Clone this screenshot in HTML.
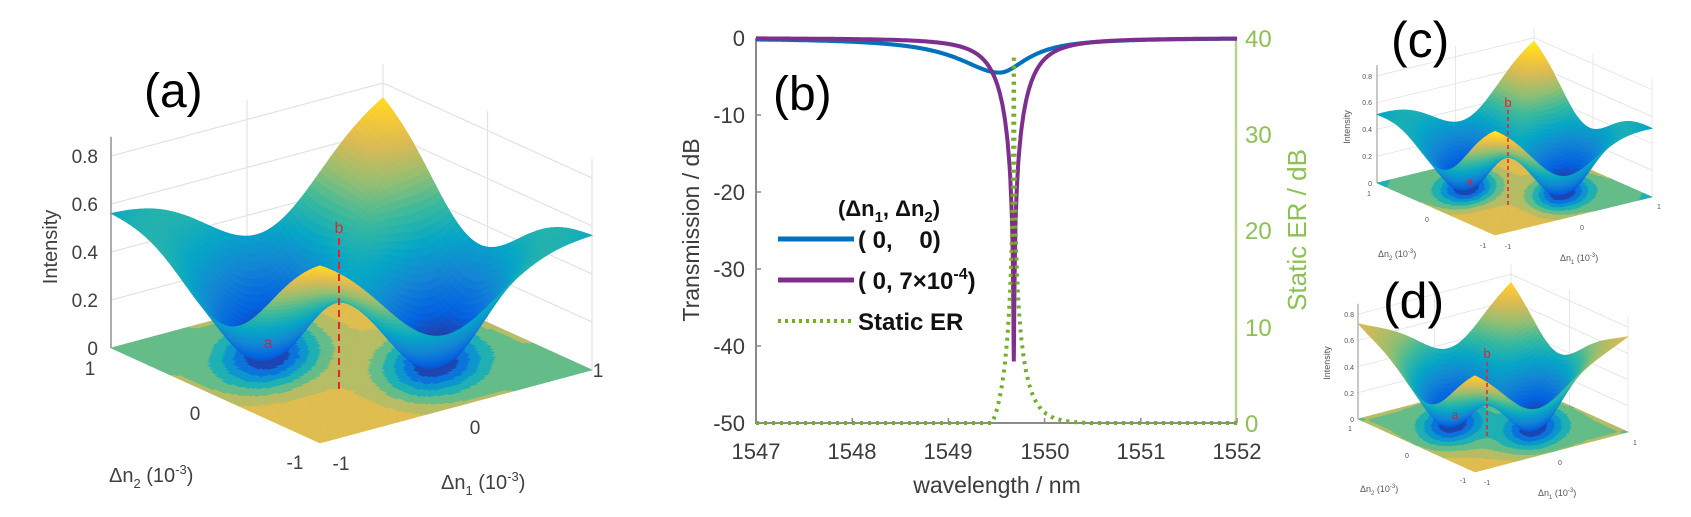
<!DOCTYPE html>
<html><head><meta charset="utf-8"><style>
html,body{margin:0;padding:0;background:#fff}
svg{display:block}
text{font-family:"Liberation Sans",sans-serif}
</style></head><body>
<svg id="s" width="1691" height="517" viewBox="0 0 1691 517" xmlns="http://www.w3.org/2000/svg">
<rect width="1691" height="517" fill="#fff"/>
<g id="pa"></g><g id="pc"></g><g id="pd"></g><g id="pb"></g>

<text x="144" y="107" font-size="48">(a)</text>
<text x="773" y="110" font-size="48">(b)</text>
<text x="1391" y="57" font-size="50">(c)</text>
<text x="1383" y="318" font-size="50">(d)</text>

<g fill="#404040" font-size="19">
<text x="98" y="355" text-anchor="end">0</text>
<text x="98" y="307" text-anchor="end">0.2</text>
<text x="98" y="259" text-anchor="end">0.4</text>
<text x="98" y="211" text-anchor="end">0.6</text>
<text x="98" y="163" text-anchor="end">0.8</text>
<text transform="translate(57,247) rotate(-90)" text-anchor="middle" font-size="20">Intensity</text>
<text x="90" y="375" text-anchor="middle">1</text>
<text x="195" y="420" text-anchor="middle">0</text>
<text x="295" y="469" text-anchor="middle">-1</text>
<text x="341" y="470" text-anchor="middle">-1</text>
<text x="475" y="434" text-anchor="middle">0</text>
<text x="598" y="377" text-anchor="middle">1</text>
<text x="109" y="482" font-size="20">Δn<tspan font-size="13" dy="6">2</tspan><tspan dy="-6"> (10</tspan><tspan font-size="13" dy="-8">-3</tspan><tspan dy="8">)</tspan></text>
<text x="441" y="489" font-size="20">Δn<tspan font-size="13" dy="6">1</tspan><tspan dy="-6"> (10</tspan><tspan font-size="13" dy="-8">-3</tspan><tspan dy="8">)</tspan></text>
</g>

<g fill="#555" font-size="7">
<text x="1372" y="186" text-anchor="end">0</text>
<text x="1372" y="159" text-anchor="end">0.2</text>
<text x="1372" y="132" text-anchor="end">0.4</text>
<text x="1372" y="105" text-anchor="end">0.6</text>
<text x="1372" y="79" text-anchor="end">0.8</text>
<text transform="translate(1350,127) rotate(-90)" text-anchor="middle" font-size="9">Intensity</text>
<text x="1369" y="196" text-anchor="middle">1</text>
<text x="1427" y="222" text-anchor="middle">0</text>
<text x="1483" y="248" text-anchor="middle">-1</text>
<text x="1508" y="249" text-anchor="middle">-1</text>
<text x="1582" y="230" text-anchor="middle">0</text>
<text x="1659" y="209" text-anchor="middle">1</text>
<text x="1378" y="257" font-size="9">Δn<tspan font-size="6" dy="3">2</tspan><tspan dy="-3"> (10</tspan><tspan font-size="6" dy="-4">-3</tspan><tspan dy="4">)</tspan></text>
<text x="1560" y="261" font-size="9">Δn<tspan font-size="6" dy="3">1</tspan><tspan dy="-3"> (10</tspan><tspan font-size="6" dy="-4">-3</tspan><tspan dy="4">)</tspan></text>
</g>

<g fill="#555" font-size="7">
<text x="1354" y="422" text-anchor="end">0</text>
<text x="1354" y="396" text-anchor="end">0.2</text>
<text x="1354" y="370" text-anchor="end">0.4</text>
<text x="1354" y="343" text-anchor="end">0.6</text>
<text x="1354" y="317" text-anchor="end">0.8</text>
<text transform="translate(1330,363) rotate(-90)" text-anchor="middle" font-size="9">Intensity</text>
<text x="1350" y="431" text-anchor="middle">1</text>
<text x="1407" y="458" text-anchor="middle">0</text>
<text x="1463" y="483" text-anchor="middle">-1</text>
<text x="1487" y="485" text-anchor="middle">-1</text>
<text x="1560" y="465" text-anchor="middle">0</text>
<text x="1635" y="445" text-anchor="middle">1</text>
<text x="1360" y="492" font-size="9">Δn<tspan font-size="6" dy="3">2</tspan><tspan dy="-3"> (10</tspan><tspan font-size="6" dy="-4">-3</tspan><tspan dy="4">)</tspan></text>
<text x="1538" y="496" font-size="9">Δn<tspan font-size="6" dy="3">1</tspan><tspan dy="-3"> (10</tspan><tspan font-size="6" dy="-4">-3</tspan><tspan dy="4">)</tspan></text>
</g>

<g fill="#e8222a" stroke="none">
<text x="339" y="233" font-size="16" text-anchor="middle">b</text>
<text x="268" y="348" font-size="16" text-anchor="middle" fill="#d0204a">a</text>
<text x="1508" y="107" font-size="13" text-anchor="middle">b</text>
<text x="1470" y="186" font-size="12" text-anchor="middle" fill="#d0204a">a</text>
<text x="1487" y="358" font-size="13" text-anchor="middle">b</text>
<text x="1455" y="419" font-size="12" text-anchor="middle" fill="#d0204a">a</text>
</g>
<g stroke="#e8222a" stroke-dasharray="7 5" fill="none">
<line x1="339" y1="238" x2="339" y2="390" stroke-width="2"/>
<line x1="1508" y1="110" x2="1508" y2="206" stroke-width="1.5" stroke-dasharray="4 3"/>
<line x1="1487" y1="362" x2="1487" y2="438" stroke-width="1.5" stroke-dasharray="4 3"/>
</g>

<g fill="#3c3c3c" font-size="22">
<text x="745" y="46" text-anchor="end">0</text>
<text x="745" y="123" text-anchor="end">-10</text>
<text x="745" y="200" text-anchor="end">-20</text>
<text x="745" y="277" text-anchor="end">-30</text>
<text x="745" y="354" text-anchor="end">-40</text>
<text x="745" y="431" text-anchor="end">-50</text>
<text x="756" y="459" text-anchor="middle">1547</text>
<text x="852" y="459" text-anchor="middle">1548</text>
<text x="948" y="459" text-anchor="middle">1549</text>
<text x="1045" y="459" text-anchor="middle">1550</text>
<text x="1141" y="459" text-anchor="middle">1551</text>
<text x="1237" y="459" text-anchor="middle">1552</text>
<text x="997" y="493" text-anchor="middle" font-size="23">wavelength / nm</text>
<text transform="translate(699,230) rotate(-90)" text-anchor="middle" font-size="23">Transmission / dB</text>
</g>
<g fill="#8dc055" font-size="24">
<text x="1245" y="47">40</text>
<text x="1245" y="143">30</text>
<text x="1245" y="239">20</text>
<text x="1245" y="336">10</text>
<text x="1245" y="432">0</text>
<text transform="translate(1306,230) rotate(-90)" text-anchor="middle" font-size="26">Static ER / dB</text>
</g>
<g font-weight="bold" fill="#111" font-size="22">
<text x="838" y="216">(Δn<tspan font-size="15" dy="6">1</tspan><tspan dy="-6">, Δn</tspan><tspan font-size="15" dy="6">2</tspan><tspan dy="-6">)</tspan></text>
<text x="858" y="248" font-size="24" xml:space="preserve">( 0,    0)</text>
<text x="858" y="289" font-size="24">( 0, 7×10<tspan font-size="16" dy="-10">-4</tspan><tspan dy="10">)</tspan></text>
<text x="858" y="330" font-size="24">Static ER</text>
</g>
<line x1="778" y1="239" x2="854" y2="239" stroke="#0072bd" stroke-width="5"/>
<line x1="778" y1="280" x2="854" y2="280" stroke="#7e2f8e" stroke-width="5"/>
<line x1="778" y1="321" x2="854" y2="321" stroke="#77ac30" stroke-width="4" stroke-dasharray="3 4"/>
</svg>
<script>
const par=[[53,42,135],[3,99,225],[20,133,212],[6,167,198],[56,185,158],[146,191,115],[217,186,86],[252,206,46],[249,251,14]];
function pc(t){t=Math.max(0,Math.min(1,t));const f=t*8,i=Math.min(7,Math.floor(f)),r=f-i,a=par[i],b=par[i+1];
return 'rgb('+Math.round(a[0]+(b[0]-a[0])*r)+','+Math.round(a[1]+(b[1]-a[1])*r)+','+Math.round(a[2]+(b[2]-a[2])*r)+')';}
function dip(s,d,d0,ws,wd){const S=s*s/(ws*ws);return (1-Math.exp(-(S+(d-d0)*(d-d0)/(wd*wd))))*(1-Math.exp(-(S+(d+d0)*(d+d0)/(wd*wd))));}
function mk(b0,bs,bd,d0,ws,wd,ck,fws,fwd,fck){return (x1,x2)=>{const s=(x1+x2)/2,d=(x1-x2)/2;
 const B=b0+bs*s*s+bd*d*d;
 const I=B*dip(s,d,d0,ws,wd);
 const Fv=B*dip(s,d,d0,fws,fwd)*(1-fck*d*d);
 return [I,I*(1-ck*d*d),Fv];};}
function panel(id,F,R,L,zs,f,cmax,sw){
 const P=(u,v,z)=>[F[0]+u*(R[0]-F[0])+v*(L[0]-F[0]),F[1]+u*(R[1]-F[1])+v*(L[1]-F[1])-z*zs];
 const fv=(u,v)=>f(2*u-1,2*v-1);
 let o=[];const pt=p=>p[0].toFixed(1)+','+p[1].toFixed(1);
 for(let z=0;z<=0.81;z+=0.2){o.push('<polyline points="'+pt(P(0,1,z))+' '+pt(P(1,1,z))+' '+pt(P(1,0,z))+'" fill="none" stroke="#e2e2e2" stroke-width="'+sw+'"/>');}
 [[0.5,1],[1,1],[1,0.5],[1,0]].forEach(q=>{o.push('<line x1="'+P(q[0],q[1],0)[0]+'" y1="'+P(q[0],q[1],0)[1]+'" x2="'+P(q[0],q[1],0.88)[0]+'" y2="'+P(q[0],q[1],0.88)[1]+'" stroke="#e2e2e2" stroke-width="'+sw+'"/>');});
 const a0=P(0,1,0),a1=P(0,1,0.88);
 o.push('<line x1="'+a0[0]+'" y1="'+a0[1]+'" x2="'+a1[0]+'" y2="'+a1[1]+'" stroke="#777" stroke-width="'+sw+'"/>');
 const NF=90;
 for(let i=0;i<NF;i++)for(let j=0;j<NF;j++){const u=i/NF,v=j/NF,du=1/NF;
  const val=fv(u+du/2,v+du/2)[2]/cmax;const lv=Math.min(0.77,Math.floor(val/0.125)*0.125+0.0625);const c=pc(lv);
  o.push('<polygon points="'+pt(P(u,v,0))+' '+pt(P(u+du,v,0))+' '+pt(P(u+du,v+du,0))+' '+pt(P(u,v+du,0))+'" fill="'+c+'" stroke="'+c+'" stroke-width="0.6"/>');}
 const N=56,q=[];
 for(let i=0;i<N;i++)for(let j=0;j<N;j++){const u=i/N,v=j/N,d=1/N;
  const A=fv(u,v),B=fv(u+d,v),C=fv(u+d,v+d),E=fv(u,v+d);const c=pc((A[1]+B[1]+C[1]+E[1])/4/cmax);
  q.push([u+v,'<polygon points="'+pt(P(u,v,A[0]))+' '+pt(P(u+d,v,B[0]))+' '+pt(P(u+d,v+d,C[0]))+' '+pt(P(u,v+d,E[0]))+'" fill="'+c+'" stroke="'+c+'" stroke-width="0.7"/>']);}
 q.sort((a,b)=>b[0]-a[0]);q.forEach(e=>o.push(e[1]));
 document.getElementById(id).innerHTML=o.join('');
}
const fa=mk(0.6,0.22,-0.03,0.35,0.75,0.32,0.45,0.38,0.2,0.3),
      fc=mk(0.6,0.26,-0.08,0.35,0.75,0.32,0.45,0.38,0.2,0.3),
      fd=mk(0.45,0.35,0.28,0.3,0.7,0.28,0.15,0.4,0.2,0.3);
panel('pa',[320,443],[592,370],[111,348],240,fa,0.8,1.2);
panel('pc',[1495,235],[1652,197],[1377,183],134,fc,0.8,0.8);
panel('pd',[1475,472],[1628,432],[1358,419],131,fd,0.82,0.8);
(function(){
 const X=l=>756+96.2*(l-1547), Y=db=>38-db*7.7, YR=er=>423-er*9.625;
 const bl=l=>{const d=l-1549.53,g=d<0?0.68:0.46;return 10*Math.log10(1-0.645/(1+(d/g)*(d/g)));};
 const pu=l=>{const d=l-1549.68,g=0.3;return 10*Math.log10(1-(1-6.3e-5)/(1+(d/g)*(d/g)));};
 let b=[],p=[],g=[];
 for(let l=1547;l<=1552.0001;l+=0.002){b.push(X(l).toFixed(1)+','+Y(bl(l)).toFixed(1));p.push(X(l).toFixed(1)+','+Y(pu(l)).toFixed(1));}
 for(let l=1547;l<=1552.0001;l+=0.004){g.push(X(l).toFixed(1)+','+Math.min(423,YR(bl(l)-pu(l))).toFixed(1));}
 let o=[];
 o.push('<line x1="756" y1="38" x2="756" y2="424" stroke="#8a8a8a" stroke-width="2"/>');
 o.push('<line x1="755" y1="423" x2="1236" y2="423" stroke="#8a8a8a" stroke-width="2"/>');
 o.push('<line x1="1236" y1="38" x2="1236" y2="424" stroke="#b7d68c" stroke-width="2.5"/>');
 for(let k=0;k<6;k++){o.push('<line x1="756" y1="'+(38+77*k)+'" x2="761" y2="'+(38+77*k)+'" stroke="#8a8a8a" stroke-width="1.5"/>');
  o.push('<line x1="'+X(1547+k)+'" y1="423" x2="'+X(1547+k)+'" y2="418" stroke="#8a8a8a" stroke-width="1.5"/>');}
 o.push('<polyline points="'+b.join(' ')+'" fill="none" stroke="#0072bd" stroke-width="4"/>');
 o.push('<polyline points="'+p.join(' ')+'" fill="none" stroke="#7e2f8e" stroke-width="4"/>');
 o.push('<polyline points="'+g.join(' ')+'" fill="none" stroke="#77ac30" stroke-width="4" stroke-dasharray="3 5"/>');
 document.getElementById('pb').innerHTML=o.join('');
})();
</script>
</body></html>
